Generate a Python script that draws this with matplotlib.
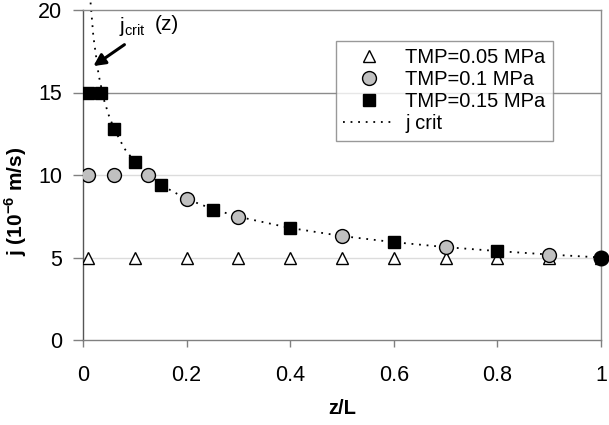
import matplotlib
matplotlib.use("Agg")
import matplotlib.pyplot as plt

plt.rcParams['font.family'] = ['Liberation Sans', 'DejaVu Sans']
plt.rcParams['mathtext.fontset'] = 'custom'
plt.rcParams['mathtext.rm'] = 'Liberation Sans'
plt.rcParams['mathtext.bf'] = 'Liberation Sans:bold'

# Data
z_tmp005 = [0.01, 0.1, 0.2, 0.3, 0.4, 0.5, 0.6, 0.7, 0.8, 0.9, 1.0]
j_tmp005 = [5, 5, 5, 5, 5, 5, 5, 5, 5, 5, 5]

z_tmp01 = [0.01, 0.06, 0.125, 0.2, 0.3, 0.5, 0.7, 0.9]
j_tmp01 = [10, 10, 10, 8.55, 7.45, 6.3, 5.63, 5.18]

z_tmp015 = [0.01, 0.035, 0.06, 0.1, 0.15, 0.25, 0.4, 0.6, 0.8]
j_tmp015 = [15, 15, 12.8, 10.8, 9.4, 7.9, 6.8, 5.95, 5.4]

z_end = [1.0]
j_end = [5.0]

z_crit = [0.0146, 0.02, 0.03, 0.04, 0.05, 0.06, 0.08, 0.1, 0.125, 0.15, 0.2,
          0.25, 0.3, 0.4, 0.5, 0.6, 0.7, 0.8, 0.9, 1.0]
j_crit = [20.45, 18.4, 16.1, 14.6, 13.6, 12.8, 11.6, 10.8, 10.0, 9.4, 8.55,
          7.94, 7.47, 6.79, 6.3, 5.93, 5.63, 5.39, 5.18, 5.0]

x_ticks = [0, 0.2, 0.4, 0.6, 0.8, 1]
x_ticklabels = ['0', '0.2', '0.4', '0.6', '0.8', '1']
y_ticks = [0, 5, 10, 15, 20]

fig = plt.figure(figsize=(6.09, 4.25), dpi=100)
ax = fig.add_axes([83/609, 1-340/425, 518/609, 330/425])

ax.set_xlim(0, 1)
ax.set_ylim(0, 20)

# gridlines
for y, c in [(5, '#dcdcdc'), (10, '#dcdcdc'), (15, '#8c8c8c')]:
    ax.axhline(y, color=c, lw=1.0, zorder=0)

ax.plot(z_tmp005, j_tmp005, linestyle='none', marker='^', ms=9, mfc='white',
        mec='black', mew=1.0, label='TMP=0.05 MPa', zorder=3)
ax.plot(z_tmp01, j_tmp01, linestyle='none', marker='o', ms=10, mfc='#c0c0c0',
        mec='black', mew=1.0, label='TMP=0.1 MPa', zorder=4)
ax.plot(z_tmp015, j_tmp015, linestyle='none', marker='s', ms=8, mfc='black',
        mec='black', mew=1.0, label='TMP=0.15 MPa', zorder=5)
ax.plot(z_crit, j_crit, color='black', lw=1.3, linestyle=(0, (1, 3.2)),
        label='j crit', zorder=2, clip_on=False)
ax.plot(z_end, j_end, linestyle='none', marker='o', ms=10.5, mfc='black',
        mec='black', zorder=6, clip_on=False)

# spines
ax.spines['top'].set_color('#8c8c8c')
ax.spines['right'].set_color('#8c8c8c')
ax.spines['left'].set_color('#555555')
ax.spines['bottom'].set_color('#808080')
for s in ax.spines.values():
    s.set_linewidth(1.0)

ax.set_xticks(x_ticks)
ax.set_xticklabels(x_ticklabels)
ax.set_yticks(y_ticks)
ax.tick_params(axis='x', direction='out', length=5, width=1, color='#808080',
               labelsize=15.5, pad=13)
ax.tick_params(axis='y', direction='out', length=7, width=1, color='#808080',
               labelsize=15.5, pad=8)

ax.set_xlabel('z/L', fontsize=14.5, fontweight='bold')
ax.xaxis.set_label_coords(0.5, (340 - 408) / 330)
ax.xaxis.label.set_va('center')
ax.set_ylabel(r'j (10$^{\mathbf{-6}}$ m/s)', fontsize=15, fontweight='bold')
ax.yaxis.set_label_coords((16 - 83) / 518, 0.42)
ax.yaxis.label.set_va('center')

# annotation
ax.annotate('', xy=(0.02, 16.6), xytext=(0.08, 17.9),
            arrowprops=dict(arrowstyle='-|>,head_length=0.7,head_width=0.35',
                            color='black', lw=2.2, shrinkA=0, shrinkB=0))
ax.text(0.07, 19.0, r'j$_{\mathrm{crit}}$', fontsize=15, va='center', ha='left')
ax.text(0.138, 19.1, '(z)', fontsize=15, va='center', ha='left')

leg = ax.legend(loc='upper left', bbox_to_anchor=(0.488, 0.905), fontsize=14.5,
                frameon=True, fancybox=False, edgecolor='#808080',
                handlelength=2.6, handletextpad=0.5, labelspacing=0.15,
                borderpad=0.35, borderaxespad=0)
leg.get_frame().set_linewidth(1.0)

fig.savefig('out.png', dpi=100)
